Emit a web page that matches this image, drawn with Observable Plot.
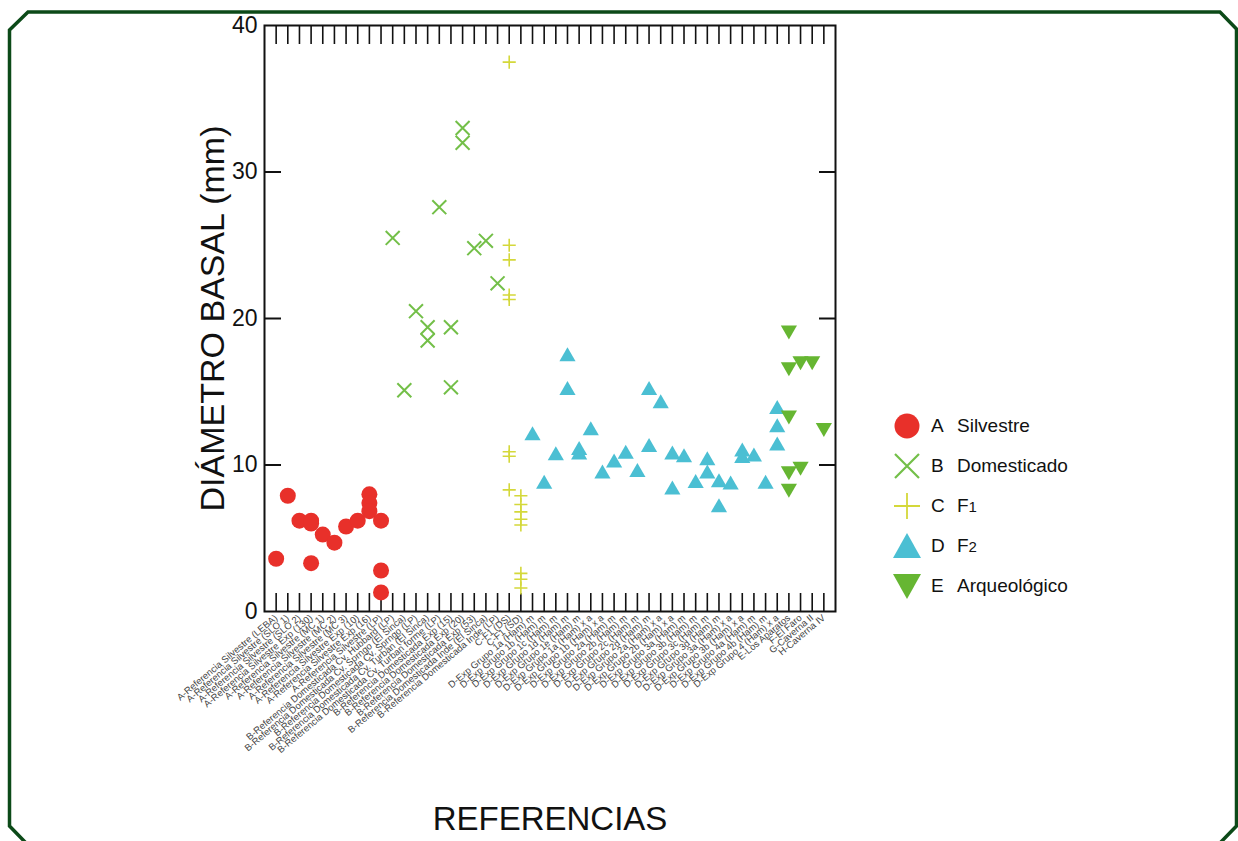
<!DOCTYPE html>
<html>
<head>
<meta charset="utf-8">
<script src="https://cdn.jsdelivr.net/npm/d3@7"></script>
<script src="https://cdn.jsdelivr.net/npm/@observablehq/plot@0.6"></script>
<style>
  html, body { margin: 0; padding: 0; background: #fff; overflow: hidden; }
  body { width: 1238px; height: 841px; position: relative; font-family: "Liberation Sans", Arial, sans-serif; }
  #chart { position: absolute; left: 0; top: 0; }
  #border { position: absolute; left: 0; top: 0; pointer-events: none; }
  #legend { position: absolute; left: 890px; top: 406px; width: 183px; overflow: hidden; }
  .row { height: 40px; display: flex; align-items: center; white-space: nowrap; font-size: 19px; color: #111; }
  .row svg { width: 34px; height: 34px; flex: none; }
  .row .k { width: 26px; margin-left: 7px; }
  .sub { font-size: 15px; }
</style>
</head>
<body>
<div id="chart"></div>
<div id="legend"></div>
<svg id="border" width="1238" height="841"></svg>
<script>
// ---- Data ----
const labelsA = [
  "A-Referencia Silvestre (LEBA)", "A-Referencia Silvestre (SLO 1)", "A-Referencia Silvestre (SLO 2)",
  "A-Referencia Silvestre Exp (130)", "A-Referencia Silvestre (MC 1)", "A-Referencia Silvestre (MC 2)",
  "A-Referencia Silvestre (MC 3)", "A-Referencia Silvestre Exp (10)", "A-Referencia Silvestre Exp (16)",
  "A-Referencia Silvestre (LP)"
];
const valuesA = [[3.6], [7.9], [6.2], [6.2, 6.0, 3.3], [5.25], [4.7], [5.8], [6.2], [8.0, 7.4, 6.85], [6.2, 2.8, 1.3]];

const labelsB = [
  "B-Referencia Domesticada Cv. Hubbard (LP)", "B-Referencia Domesticada Cv. Sprngo (El Sinca)",
  "B-Referencia Domesticada Cv. Sprngo (LP)", "B-Referencia Domesticada Cv. Turban (El Sinca)",
  "B-Referencia Domesticada Cv. Turban forme (LP)", "B-Referencia Domesticada Exp (15)",
  "B-Referencia Domesticada Exp (20)", "B-Referencia Domesticada Exp (53)",
  "B-Referencia Domesticada Inde (El Sinca)", "B-Referencia Domesticada Inde (LP)"
];
const valuesB = [[25.5], [15.1], [20.5], [19.4, 18.5], [27.6], [19.4, 15.3], [33.0, 32.0], [24.8], [25.3], [22.4]];

const labelsC = ["C-F1 (DS)", "C-F1 (SD)"];
const valuesC = [
  [37.5, 25.0, 24.0, 21.6, 21.3, 10.9, 10.6, 8.3],
  [7.9, 7.3, 6.8, 6.3, 5.9, 2.6, 2.2, 1.6]
];

const labelsD = [
  "D-Exp Grupo 1a (Ham) m", "D-Exp Grupo 1b (Ham) m", "D-Exp Grupo 1c (Ham) m", "D-Exp Grupo 1d (Ham) m",
  "D-Exp Grupo 1e (Ham) m", "D-Exp Grupo 1a (Ham) x a", "D-Exp Grupo 1b (Ham) x a", "D-Exp Grupo 2a (Ham) m",
  "D-Exp Grupo 2b (Ham) m", "D-Exp Grupo 2c (Ham) m", "D-Exp Grupo 2d (Ham) m", "D-Exp Grupo 2a (Ham) x a",
  "D-Exp Grupo 2b (Ham) x a", "D-Exp Grupo 3a (Ham) m", "D-Exp Grupo 3b (Ham) m", "D-Exp Grupo 3c (Ham) m",
  "D-Exp Grupo 3d (Ham) m", "D-Exp Grupo 3a (Ham) x a", "D-Exp Grupo 3b (Ham) x a", "D-Exp Grupo 4a (Ham) m",
  "D-Exp Grupo 4b (Ham) m", "D-Exp Grupo 4 (Ham) x a"
];
const valuesD = [
  [12.0], [8.7], [10.65], [17.4, 15.1], [11.0, 10.7], [12.35], [9.4], [10.15], [10.75], [9.5],
  [15.1, 11.2], [14.2], [10.7, 8.3], [10.5], [8.75], [10.3, 9.4], [8.8, 7.1], [8.65], [10.9, 10.45],
  [10.55], [8.7], [13.8, 12.55, 11.3]
];

const labelsE = ["E-Los Aparatos", "F-El Faro", "G-Caverna II", "H-Caverna IV"];
const valuesE = [[19.2, 16.7, 13.4, 9.6, 8.4], [17.1, 9.9], [17.1], [12.55]];

const yTicks = [0, 10, 20, 30, 40];
const yInnerTicks = [10, 20, 30];
const legendLetters = ["A", "B", "C", "D", "E"];
const legendNames = ["Silvestre", "Domesticado", "F<span class='sub'>1</span>", "F<span class='sub'>2</span>", "Arqueológico"];
const colors = ["#e8302a", "#73bf48", "#d4d83a", "#4bbfd3", "#66b632"];

// ---- Build tables ----
const categories = [...labelsA, ...labelsB, ...labelsC, ...labelsD, ...labelsE];
const toRows = (labels, values) => labels.flatMap((ref, i) => values[i].map(v => ({ref, v})));
const rowsA = toRows(labelsA, valuesA);
const rowsB = toRows(labelsB, valuesB);
const rowsC = toRows(labelsC, valuesC);
const rowsD = toRows(labelsD, valuesD);
const rowsE = toRows(labelsE, valuesE);

const chart = Plot.plot({
  width: 1238,
  height: 841,
  marginLeft: 264,
  marginRight: 403,
  marginTop: 25,
  marginBottom: 230,
  style: {fontFamily: "'Liberation Sans', Arial, sans-serif", color: "#111", background: "transparent", overflow: "visible"},
  x: {type: "point", domain: categories, padding: 1},
  y: {domain: [0, 40]},
  marks: [
    // tick labels
    Plot.axisY(yTicks, {anchor: "left", tickSize: 0, tickPadding: 7, fontSize: 23, label: null}),
    Plot.axisX({anchor: "bottom", tickSize: 0, tickPadding: 5, tickRotate: -40, fontSize: 9.5, fill: "#444", label: null}),
    // inward ticks
    Plot.axisY(yInnerTicks, {anchor: "left", tickSize: -17, strokeWidth: 2, fill: "none", label: null}),
    Plot.axisY(yInnerTicks, {anchor: "right", tickSize: -17, strokeWidth: 2, fill: "none", label: null}),
    Plot.axisX({anchor: "bottom", tickSize: -18, strokeWidth: 1.6, fill: "none", label: null}),
    Plot.axisX({anchor: "top", tickSize: -18, strokeWidth: 1.6, fill: "none", label: null}),
    Plot.frame({stroke: "#111", strokeWidth: 2}),
    // axis titles
    Plot.text(["DIÁMETRO BASAL (mm)"], {frameAnchor: "left", textAnchor: "middle", dx: -51, dy: 0, rotate: -90, fontSize: 34, fill: "#111"}),
    Plot.text(["REFERENCIAS"], {frameAnchor: "bottom", textAnchor: "middle", dy: 218, fontSize: 33, fill: "#111"}),
    // data
    Plot.dot(rowsA, {x: "ref", y: "v", symbol: "circle", r: 8, fill: colors[0]}),
    Plot.dot(rowsB, {x: "ref", y: "v", symbol: "times", r: 6.4, stroke: colors[1], strokeWidth: 2}),
    Plot.dot(rowsC, {x: "ref", y: "v", symbol: "plus", r: 4.3, stroke: colors[2], strokeWidth: 1.6}),
    Plot.dot(rowsD, {x: "ref", y: "v", symbol: "triangle", r: 6, fill: colors[3]}),
    Plot.dot(rowsE, {x: "ref", y: "v", symbol: "triangle", rotate: 180, r: 6, fill: colors[4]})
  ]
});
document.getElementById("chart").appendChild(chart);

// ---- Legend ----
const symbolPaths = [
  `<circle cx="17" cy="17" r="12.5" fill="${colors[0]}"/>`,
  `<path d="M5 5L29 29M29 5L5 29" stroke="${colors[1]}" stroke-width="2.2" fill="none"/>`,
  `<path d="M4 17H30M17 4V30" stroke="${colors[2]}" stroke-width="1.8" fill="none"/>`,
  `<path d="M17 4L31 29H3Z" fill="${colors[3]}"/>`,
  `<path d="M3 5H31L17 30Z" fill="${colors[4]}"/>`
];
const legend = document.getElementById("legend");
legend.innerHTML = legendLetters.map((k, i) =>
  `<div class="row"><svg viewBox="0 0 34 34">${symbolPaths[i]}</svg><span class="k">${k}</span><span>${legendNames[i]}</span></div>`
).join("");

// ---- Decorative frame border ----
document.getElementById("border").innerHTML =
  `<path d="M26 843L9.5 826V30L28 12H1220L1236.5 29V826L1220 843" fill="none" stroke="#0c4a18" stroke-width="3.5"/>`;
</script>
</body>
</html>
